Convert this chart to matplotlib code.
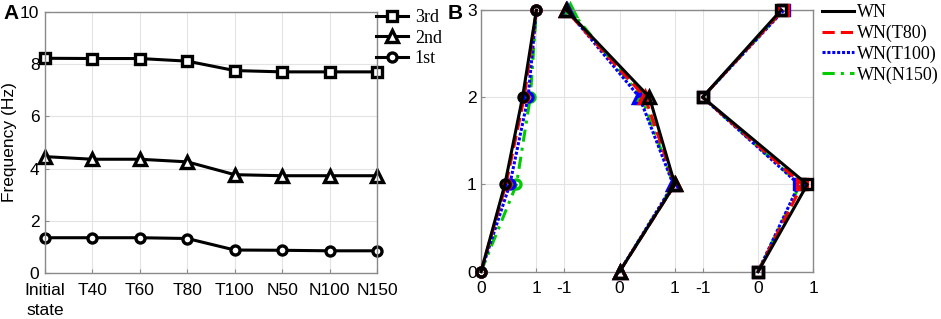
import matplotlib
matplotlib.use('Agg')
import matplotlib.pyplot as plt

plt.rcParams['font.family'] = 'Liberation Sans'
plt.rcParams['font.size'] = 12.5
plt.rcParams['axes.unicode_minus'] = False

# Panel A: natural frequencies per damage state
states = ["Initial\nstate", "T40", "T60", "T80", "T100", "N50", "N100", "N150"]
freq_3rd = [8.22, 8.21, 8.21, 8.11, 7.75, 7.70, 7.70, 7.70]
freq_2nd = [4.46, 4.36, 4.36, 4.26, 3.77, 3.73, 3.73, 3.73]
freq_1st = [1.36, 1.36, 1.36, 1.33, 0.89, 0.88, 0.86, 0.86]

# Panel B: mode shapes, floors 0..3
floors = [0, 1, 2, 3]
mode1 = {
    "WN": [0, 0.43, 0.75, 1.0],
    "WN(T80)": [0, 0.45, 0.78, 1.0],
    "WN(T100)": [0, 0.52, 0.85, 1.0],
    "WN(N150)": [0, 0.64, 0.89, 1.0],
}
mode2 = {
    "WN": [0, 1.0, 0.54, -0.96],
    "WN(T80)": [0, 1.0, 0.46, -0.97],
    "WN(T100)": [0, 0.97, 0.36, -0.95],
    "WN(N150)": [0, 0.98, 0.40, -0.89],
}
mode3 = {
    "WN": [0, 0.89, -1.0, 0.42],
    "WN(T80)": [0, 0.80, -1.0, 0.45],
    "WN(T100)": [0, 0.74, -1.0, 0.47],
    "WN(N150)": [0, 0.76, -1.0, 0.46],
}

styles = {
    "WN": dict(color='black', linestyle='-', zorder=5),
    "WN(T80)": dict(color='red', linestyle=(0, (4, 2)), zorder=4),
    "WN(T100)": dict(color='blue', linestyle=(0, (1, 0.6)), zorder=3),
    "WN(N150)": dict(color='#00cc00', linestyle=(0, (4, 2, 1, 2)), zorder=2),
}

W, H = 941, 319
fig = plt.figure(figsize=(W / 100, H / 100), dpi=100)
grid_c = '#e3e3e3'
spine_c = '#8a8a8a'

def style_axes(ax):
    for s in ax.spines.values():
        s.set_color(spine_c)
        s.set_linewidth(1.0)
    ax.tick_params(direction='in', length=3, color=spine_c, labelcolor='black')
    ax.grid(True, color=grid_c, linewidth=0.8)
    ax.set_axisbelow(True)

# ---- Panel A
axA = fig.add_axes([45 / W, 1 - 273.3 / H, 332 / W, 261.6 / H])
x = list(range(1, len(states) + 1))
lA = []
lA.append(axA.plot(x, freq_3rd, '-s', color='black', lw=2.2, ms=6.5, mfc='white', mew=2.4, label='3rd')[0])
lA.append(axA.plot(x, freq_2nd, '-^', color='black', lw=2.2, ms=8.5, mfc='white', mew=2.4, label='2nd')[0])
lA.append(axA.plot(x, freq_1st, '-o', color='black', lw=2.2, ms=6.5, mfc='white', mew=2.4, label='1st')[0])
axA.set_xlim(1, 8)
axA.set_ylim(0, 10)
axA.set_xticks(x)
axA.set_xticklabels(states, linespacing=1.45)
axA.set_yticks([0, 2, 4, 6, 8, 10])
axA.set_ylabel("Frequency (Hz)", labelpad=2)
style_axes(axA)
axA.tick_params(axis='x', pad=7)
axA.tick_params(axis='y', pad=4)
for l in lA:
    l.set_clip_on(False)

fig.legend(handles=lA, loc='upper left', bbox_to_anchor=(376 / W, 1 - 9 / H),
           bbox_transform=fig.transFigure, frameon=False, numpoints=1,
           prop={'family': 'Liberation Serif', 'size': 13},
           handlelength=1.75, handletextpad=0.4, labelspacing=0.2,
           borderpad=0, borderaxespad=0)

fig.text(3 / W, 1 - 4 / H, "A", fontsize=15, fontweight='bold', va='top', ha='left')

# ---- Panel B: three mode shape axes side by side
b_bottom = 1 - 271.7 / H
b_height = 261.7 / H
px_unit = 55.4
limits = [(0, 1.5), (-1, 1.5), (-1, 1)]
ticks = [[0, 1], [-1, 0, 1], [-1, 0, 1]]
modes = [mode1, mode2, mode3]
markers = ['o', '^', 's']
msizes = [6.5, 9, 6.5]
left = 481
axesB = []
for i in range(3):
    lo, hi = limits[i]
    w = (hi - lo) * px_unit
    ax = fig.add_axes([left / W, b_bottom, w / W, b_height])
    left += w
    for name in ["WN(N150)", "WN(T100)", "WN(T80)", "WN"]:
        st = styles[name]
        ax.plot(modes[i][name], floors, marker=markers[i], ms=msizes[i], mfc='none',
                mew=2.4, lw=2.2, clip_on=False, label=name, **st)
    ax.set_xlim(lo, hi)
    ax.set_ylim(0, 3)
    ax.set_xticks(ticks[i])
    ax.set_yticks([0, 1, 2, 3])
    style_axes(ax)
    ax.tick_params(axis='x', pad=7)
    if i > 0:
        ax.spines['left'].set_visible(False)
        ax.tick_params(axis='y', left=False, labelleft=False)
    if i < 2:
        ax.spines['right'].set_visible(False)
    axesB.append(ax)
axesB[0].tick_params(axis='y', pad=3)

hB = [plt.Line2D([], [], lw=2.2, color=styles[n]['color'], linestyle=styles[n]['linestyle'])
      for n in ["WN", "WN(T80)", "WN(T100)", "WN(N150)"]]
fig.legend(hB, ["WN", "WN(T80)", "WN(T100)", "WN(N150)"], loc='upper left',
           bbox_to_anchor=(822 / W, 1 - 4 / H), bbox_transform=fig.transFigure,
           frameon=False, prop={'family': 'Liberation Serif', 'size': 13},
           handlelength=1.75, handletextpad=0.2, labelspacing=0.2,
           borderpad=0, borderaxespad=0)

fig.text(448 / W, 1 - 4 / H, "B", fontsize=15, fontweight='bold', va='top', ha='left')

fig.savefig("out.png", dpi=100)
